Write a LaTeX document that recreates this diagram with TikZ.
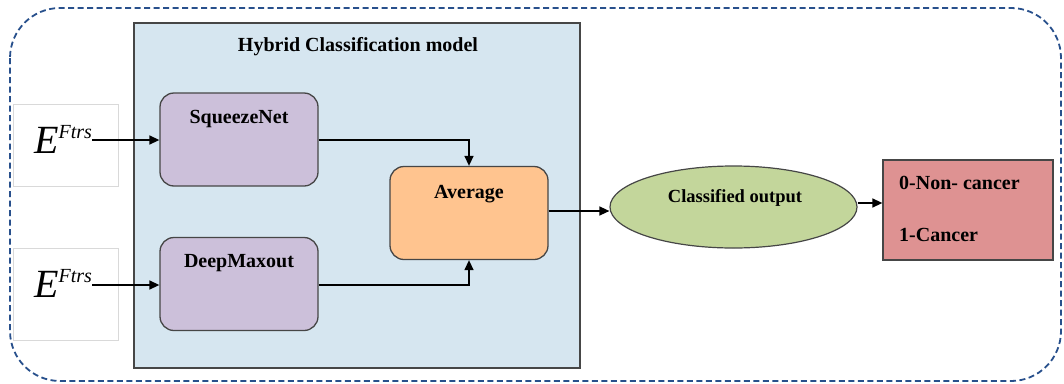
\documentclass[tikz,border=0pt]{standalone}
\usepackage{fontspec}
\setmainfont{Liberation Serif}
\usetikzlibrary{shapes.geometric,arrows.meta}
\definecolor{dashblue}{RGB}{40,80,140}
\definecolor{contfill}{RGB}{214,230,240}
\definecolor{purp}{RGB}{204,192,218}
\definecolor{orng}{RGB}{255,196,143}
\definecolor{grn}{RGB}{195,214,155}
\definecolor{redb}{RGB}{222,146,146}
\definecolor{bord}{RGB}{70,70,70}
\tikzset{
  procbox/.style={draw=bord, line width=1.3pt, rounded corners=14pt, minimum width=158pt, minimum height=93pt, inner sep=0pt},
  lbl/.style={font=\bfseries\fontsize{20}{23}\selectfont, inner sep=0pt},
  inbox/.style={draw=black!15, line width=0.8pt, fill=white, inner sep=0pt},
  arr/.style={line width=1.4pt, -{Triangle[length=10pt,width=9pt]}},
  etext/.style={inner sep=0pt}
}
\begin{document}
\begin{tikzpicture}[x=1pt,y=-1pt]
\useasboundingbox (0,0) rectangle (1064,383);
% outer dashed frame
\draw[dashblue, line width=1.8pt, dash pattern=on 6pt off 3.5pt, rounded corners=50pt] (10,8) rectangle (1061,381);
% input boxes
\node[inbox, minimum width=105pt, minimum height=82pt] (in1) at (65.5,145) {};
\node[inbox, minimum width=105pt, minimum height=92pt] (in2) at (65.5,294) {};
% container
\node[draw=bord, line width=1.2pt, fill=contfill, minimum width=446pt, minimum height=345pt, inner sep=0pt] (cont) at (357,195.5) {};
\node[lbl] (title) at (358,47) {Hybrid Classification model};
% E inputs
\node[etext, anchor=base west] (e1) at (34,153) {\fontsize{40}{42}\selectfont\itshape E\raisebox{15pt}{\fontsize{20}{22}\selectfont Ftrs}};
\node[etext, anchor=base west] (e2) at (34,297) {\fontsize{40}{42}\selectfont\itshape E\raisebox{15pt}{\fontsize{20}{22}\selectfont Ftrs}};
% boxes
\node[procbox, fill=purp] (sq) at (239,139.5) {};
\node[lbl] (sqt) at (239,119) {SqueezeNet};
\node[procbox, fill=purp] (dm) at (239,284) {};
\node[lbl] (dmt) at (239,263) {DeepMaxout};
\node[procbox, fill=orng] (avg) at (469,213) {};
\node[lbl] (avgt) at (469,194) {Average};
% ellipse
\node[ellipse, draw=bord, line width=1.2pt, fill=grn, minimum width=247pt, minimum height=82pt, inner sep=0pt] (out) at (733.5,207) {};
\node[font=\bfseries\fontsize{18.5}{21}\selectfont, inner sep=0pt] (outt) at (735,198) {Classified output};
% result box
\node[draw=bord, line width=1.3pt, fill=redb, minimum width=170pt, minimum height=100pt, inner sep=0pt] (res) at (968,210) {};
\node[lbl, anchor=west] (r0) at (899,183) {0-Non- cancer};
\node[lbl, anchor=west] (r1) at (899,235) {1-Cancer};
% arrows
\draw[arr] (e1.east |- 0,140) -- (sq.west |- 0,140);
\draw[arr] (e2.east |- 0,285) -- (dm.west |- 0,285);
\draw[arr] (sq.east |- 0,140) -| (avg.north);
\draw[arr] (dm.east |- 0,285) -| (avg.south);
\draw[arr] (avg.east |- 0,211) -- (out.west |- 0,211);
\draw[arr] (out.east |- 0,203) -- (res.west |- 0,203);
\end{tikzpicture}
\end{document}
